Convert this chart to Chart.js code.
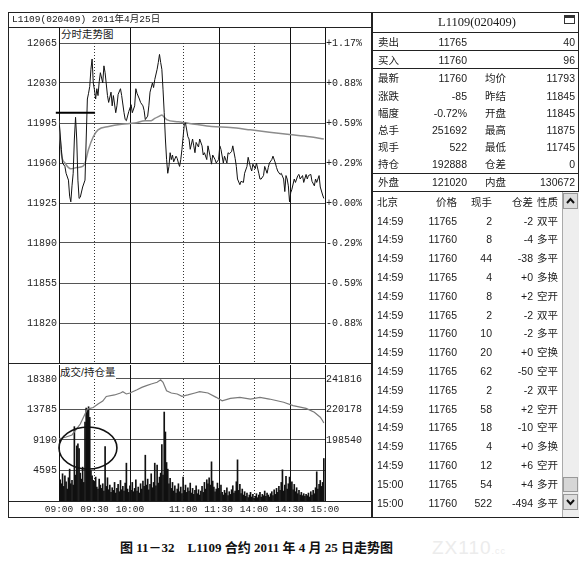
<!DOCTYPE html>
<html lang="zh-CN"><head><meta charset="utf-8"><title>L1109 走势图</title>
<script src="https://cdn.jsdelivr.net/npm/chart.js@4.4.1/dist/chart.umd.min.js"></script>
<style>
html,body{margin:0;padding:0;background:#fff}
body{position:relative;width:587px;height:577px;overflow:hidden;font-family:"Liberation Sans","Noto Sans CJK SC",sans-serif;color:#1a1a1a}
.abs{position:absolute;white-space:nowrap}
.frame{position:absolute;border:1px solid #222;box-sizing:border-box}
.hr{position:absolute;height:1px;background:#222}
canvas{position:absolute;display:block}
.mono{font-family:"Liberation Mono","Noto Sans CJK SC",monospace}
.q{font-size:10.5px}
</style></head><body>
<div class="frame" style="left:8px;top:12px;width:364px;height:506px"></div>
<canvas id="pc" width="362" height="336" style="left:8px;top:27px"></canvas>
<canvas id="vc" width="362" height="152" style="left:8px;top:365px"></canvas>
<div class="hr" style="left:8px;top:27px;width:364px"></div>
<div class="hr" style="left:8px;top:363px;width:364px"></div>
<div class="hr" style="left:8px;top:501px;width:364px"></div>
<div class="abs mono" style="left:12px;top:14px;font-size:9.5px;line-height:12px">L1109(020409) 2011年4月25日</div>
<div class="abs" style="left:61px;top:28px;font-size:10.5px;line-height:13px;background:#fff;padding-right:1px">分时走势图</div>
<div class="abs" style="left:60px;top:366px;font-size:10.5px;line-height:13px;background:#fff;padding-right:1px">成交/持仓量</div>

<div class="frame" style="left:372px;top:12px;width:207px;height:506px"></div>
<div class="hr" style="left:372px;top:32px;width:207px"></div>
<div class="hr" style="left:372px;top:50px;width:207px"></div>
<div class="hr" style="left:372px;top:68px;width:207px"></div>
<div class="hr" style="left:372px;top:173px;width:207px"></div>
<div class="hr" style="left:372px;top:191px;width:207px"></div>
<div class="abs" style="left:564px;top:15px;width:11px;height:9px;border:1px solid #333;border-top-width:3px;box-sizing:border-box;background:#fff"></div>
<div class="abs" style="left:562px;top:192px;width:16px;height:325px;background:#eee;border-left:1px solid #aaa"></div>
<div class="abs" style="left:563px;top:193px;width:15px;height:16px;background:#ddd;border:1px solid #999;box-sizing:border-box"></div>
<div class="abs" style="left:563px;top:477px;width:15px;height:15px;background:#d6d6d6;border:1px solid #999;box-sizing:border-box"></div>
<div class="abs" style="left:563px;top:494px;width:15px;height:16px;background:#ddd;border:1px solid #999;box-sizing:border-box"></div>
<svg class="abs" style="left:563px;top:193px" width="15" height="16"><polyline points="4,10 7.5,6 11,10" fill="none" stroke="#111" stroke-width="2"/></svg>
<svg class="abs" style="left:563px;top:494px" width="15" height="16"><polyline points="4,6 7.5,10 11,6" fill="none" stroke="#111" stroke-width="2"/></svg>

<div class="abs" style="left:120px;top:539px;font-size:13px;line-height:18px;font-weight:bold;font-family:'Liberation Serif','Noto Sans CJK SC',serif;color:#111">图 11－32&nbsp;&nbsp;&nbsp;&nbsp;L1109 合约 2011 年 4 月 25 日走势图</div>
<div class="abs" style="left:432px;top:538px;font-size:19px;line-height:20px;color:#ececec;font-family:'Liberation Sans',sans-serif;letter-spacing:1px">ZX110<span style="font-size:9px">.cc</span></div>

<script>
// ---------- data ----------
const timeTickMin = [0, 30, 60, 105, 135, 165, 195, 225];
const timeTickLabels = ['09:00', '09:30', '10:00', '11:00', '11:30', '14:00', '14:30', '15:00'];
const solidLineMin = [60, 135, 195];
const dottedLineMin = [30, 105, 165];

const priceTicks = [11820, 11855, 11890, 11925, 11960, 11995, 12030, 12065];
const pctTickLabels = ['-0.88%', '-0.59%', '-0.29%', '+0.00%', '+0.29%', '+0.59%', '+0.88%', '+1.17%'];
const volTicks = [4595, 9190, 13785, 18380];
const oiTicks = [198540, 220178, 241816];

const priceMin = [
  0,2,3,5,6,8,9,10,11,12,
  13,14,15,16,17,18,20,22,23,24,
  25,26,27,28,29,30,31,32,33,34,
  35,37,38,39,41,42,44,45,46,48,
  49,50,52,53,55,56,57,59,61,62,
  64,65,66,68,69,71,72,73,75,76,
  77,79,80,81,83,84,85,86,87,88,
  89,90,91,92,93,94,95,96,97,99,
  100,101,102,103,104,105,106,107,109,110,
  111,113,114,115,116,118,119,121,122,123,
  125,126,128,129,130,132,133,135,136,137,
  139,140,142,143,144,146,147,149,150,151,
  153,154,156,157,159,160,162,163,164,166,
  167,169,170,171,173,174,176,177,178,180,
  181,183,184,185,187,188,190,191,192,193,
  194,195,196,197,199,200,202,203,204,206,
  207,209,210,211,213,214,216,217,218,220,
  221,223,224
];
const priceVal = [
  11997,11972,11960,11957,11951,11945,11931,11926,11940,11951,
  11981,12000,11981,11945,11929,11930,11939,11945,11981,12016,
  12021,12027,12042,12051,12030,12024,12016,12025,12019,12031,
  12039,12030,12045,12039,12019,12013,12022,12010,12019,12004,
  12010,12020,12025,12019,12004,11998,11997,12005,12011,12004,
  12010,12025,12021,12016,12013,12010,12006,11998,12001,12010,
  12022,12030,12026,12033,12042,12048,12055,12048,12042,12024,
  12004,11981,11963,11951,11957,11969,11963,11967,11961,11966,
  11964,11960,11957,11963,11972,11983,11994,11995,11983,11981,
  11972,11981,11975,11969,11978,11974,11981,11975,11967,11969,
  11963,11975,11965,11959,11967,11963,11960,11963,11975,11972,
  11960,11966,11960,11969,11968,11970,11975,11964,11957,11946,
  11941,11944,11943,11951,11957,11965,11956,11953,11959,11955,
  11960,11951,11946,11946,11949,11957,11951,11956,11960,11963,
  11966,11960,11956,11953,11950,11951,11946,11935,11949,11946,
  11940,11926,11934,11937,11946,11943,11949,11950,11946,11949,
  11943,11950,11946,11949,11950,11944,11940,11946,11943,11949,
  11939,11932,11929
];

const avgMin = [0,2,5,10,15,20,22,25,29,33,42,53,64,73,78,81,85,87,89,91,101,115,129,145,162,178,195,212,224];
const avgVal = [11997,11968,11960,11955,11956,11957,11960,11972,11983,11989,11992,11994,11995,11997,11997,11999,12001,12002,12000,11998,11996,11994,11992,11991,11989,11987,11985,11983,11981];

const volume = [
  5900,3200,2600,4100,2200,3800,2900,1800,3500,4800,2600,3100,2400,11200,3900,
  8300,8600,7900,4200,3300,5100,2800,11900,14000,13700,14200,12600,4600,3800,3100,
  2900,3600,2100,1800,3300,2400,1900,2600,1500,8200,2200,3500,1700,2400,1300,
  2000,1600,2800,1200,1900,2500,1400,3100,1700,2200,1500,2700,5700,1800,1300,
  2300,1600,2800,1400,1900,3200,1500,2100,1200,2600,1800,3000,2200,6900,2400,
  3300,1700,2500,4100,2000,2800,5700,2300,5400,2700,3600,4200,8500,3900,13400,
  10400,5800,4800,2600,3400,1900,2800,1500,2300,1200,1800,2600,1400,2100,1100,
  3600,1600,2400,1300,2000,1500,2700,1200,1900,1000,1600,2300,1100,1700,900,
  1500,2200,1300,2800,1800,3200,2600,3500,2400,5900,3000,2100,1400,1800,2700,
  1900,1100,2400,1300,900,1600,1200,2000,800,1400,1000,1700,2300,1200,1500,
  2900,6200,1600,2500,1100,1800,900,1400,700,1200,500,900,1300,600,1000,
  400,700,1100,500,900,1300,600,1000,800,1500,700,1200,900,600,1100,
  1400,800,1700,1000,1900,1300,2200,1600,2800,4700,1500,2400,3700,1800,2600,
  3600,2100,2900,1700,2500,1400,2000,1100,1600,900,1300,800,1100,700,1000,
  800,1200,600,1400,900,1600,1100,2000,4400,1800,2500,3100,2200,2800,6400
];

const oiMin = [0,6,11,18,24,29,33,37,40,47,52,54,57,60,66,70,74,78,83,86,88,91,95,100,104,109,115,119,126,133,138,145,153,162,170,178,190,198,209,216,221,223,224];
const oiVal = [199300,200700,202100,209900,220500,221600,224100,226200,229400,230500,231900,232800,231200,231900,234200,235900,237100,238300,239500,241300,239500,233500,231900,231200,229500,230500,231900,232800,231900,228800,226400,228100,228800,227600,228800,227600,225300,222900,221000,218200,214700,212200,210600];

// quote panel
const quoteLabelsL = ['最新', '涨跌', '幅度', '总手', '现手', '持仓'];
const quoteValuesL = ['11760', '-85', '-0.72%', '251692', '522', '192888'];
const quoteLabelsR = ['均价', '昨结', '开盘', '最高', '最低', '仓差'];
const quoteValuesR = ['11793', '11845', '11845', '11875', '11745', '0'];
const bidAskLabels = ['卖出', '买入'];
const bidAskPrice = ['11765', '11760'];
const bidAskSize = ['40', '96'];
const outerInner = ['外盘', '121020', '内盘', '130672'];

// tick list
const tradeHeader = ['北京', '价格', '现手', '仓差', '性质'];
const tradeTime = ['14:59','14:59','14:59','14:59','14:59','14:59','14:59','14:59','14:59','14:59','14:59','14:59','14:59','14:59','15:00','15:00'];
const tradePrice = ['11765','11760','11760','11765','11760','11765','11760','11760','11765','11765','11765','11765','11765','11760','11765','11760'];
const tradeVol = ['2','8','44','4','8','2','10','20','62','2','58','18','4','12','54','522'];
const tradeOI = ['-2','-4','-38','+0','+2','-2','-2','+0','-50','-2','+2','-10','+0','+6','+4','-494'];
const tradeType = ['双平','多平','多平','多换','空开','双平','多平','空换','空平','双平','空开','空平','多换','空开','多开','多平'];

// annotations drawn by the author of the figure (value coordinates)
const markLevel = { price: 12004, fromMin: -2.7, toMin: 30.5 };
const circleMark = { min: 24.5, vol: 7985, minRadius: 24.5, volRadius: 3164 };

// ---------- text panel ----------
function txt(s, x, y, align, size, extra) {
  const d = document.createElement('div');
  d.className = 'abs';
  d.textContent = s;
  d.style.fontSize = (size || 10.5) + 'px';
  d.style.top = (y - 7) + 'px';
  d.style.height = '14px';
  d.style.lineHeight = '14px';
  if (align === 'right') d.style.right = (587 - x) + 'px';
  else if (align === 'center') { d.style.left = (x - 80) + 'px'; d.style.width = '160px'; d.style.textAlign = 'center'; }
  else d.style.left = x + 'px';
  if (extra) Object.assign(d.style, extra);
  document.body.appendChild(d);
}
txt('L1109(020409)', 477, 22, 'center', 12.5, { fontFamily: "'Liberation Serif','Noto Sans CJK SC',serif" });
const baY = [41.5, 59.5];
bidAskLabels.forEach((l, i) => {
  txt(l, 378, baY[i], 'left', 10.5);
  txt(bidAskPrice[i], 467, baY[i], 'right');
  txt(bidAskSize[i], 575, baY[i], 'right');
});
const qY = [78, 96, 113, 130, 147, 163.5];
quoteLabelsL.forEach((l, i) => {
  txt(l, 378, qY[i], 'left');
  txt(quoteValuesL[i], 467, qY[i], 'right');
  txt(quoteLabelsR[i], 485, qY[i], 'left');
  txt(quoteValuesR[i], 575, qY[i], 'right');
});
txt(outerInner[0], 378, 182, 'left');
txt(outerInner[1], 467, 182, 'right');
txt(outerInner[2], 485, 182, 'left');
txt(outerInner[3], 575, 182, 'right');
const colX = [377, 457, 492, 533, 537];
const colA = ['left', 'right', 'right', 'right', 'left'];
tradeHeader.forEach((h, j) => txt(h, colX[j], 202, colA[j]));
tradeTime.forEach((t, i) => {
  const y = 220.5 + i * 18.8;
  const row = [t, tradePrice[i], tradeVol[i], tradeOI[i], tradeType[i]];
  row.forEach((v, j) => txt(v, colX[j], y, colA[j]));
});

// ---------- charts ----------
Chart.defaults.font.family = "'Liberation Mono', monospace";
Chart.defaults.font.size = 10;
Chart.defaults.color = '#222';

const vgrid = {
  id: 'vgrid',
  beforeDatasetsDraw(chart) {
    const { ctx, chartArea: a, scales } = chart;
    const xs = scales.x, ys = scales.y;
    const topTick = Math.round(ys.getPixelForValue(ys.ticks[ys.ticks.length - 1].value));
    ctx.save();
    ctx.lineWidth = 1;
    ctx.strokeStyle = '#111';
    solidLineMin.forEach(m => {
      const px = Math.round(xs.getPixelForValue(m)) + 0.5;
      ctx.beginPath(); ctx.moveTo(px, a.top); ctx.lineTo(px, a.bottom); ctx.stroke();
    });
    ctx.strokeStyle = '#333';
    ctx.setLineDash([1, 2]);
    dottedLineMin.forEach(m => {
      const px = Math.round(xs.getPixelForValue(m)) + 0.5;
      ctx.beginPath(); ctx.moveTo(px, topTick); ctx.lineTo(px, a.bottom); ctx.stroke();
    });
    ctx.restore();
  }
};

const priceMark = {
  id: 'priceMark',
  afterDatasetsDraw(chart) {
    const { ctx, scales } = chart;
    const y = scales.y.getPixelForValue(markLevel.price);
    ctx.save();
    ctx.strokeStyle = '#000';
    ctx.lineWidth = 2;
    ctx.beginPath();
    ctx.moveTo(scales.x.getPixelForValue(markLevel.fromMin), y);
    ctx.lineTo(scales.x.getPixelForValue(markLevel.toMin), y);
    ctx.stroke();
    ctx.restore();
  }
};

const volMark = {
  id: 'volMark',
  afterDatasetsDraw(chart) {
    const { ctx, scales } = chart;
    const cx = scales.x.getPixelForValue(circleMark.min);
    const cy = scales.y.getPixelForValue(circleMark.vol);
    const rx = scales.x.getPixelForValue(circleMark.min + circleMark.minRadius) - cx;
    const ry = cy - scales.y.getPixelForValue(circleMark.vol + circleMark.volRadius);
    ctx.save();
    ctx.strokeStyle = '#111';
    ctx.lineWidth = 1.6;
    ctx.beginPath();
    ctx.ellipse(cx, cy, rx, ry, 0, 0, Math.PI * 2);
    ctx.stroke();
    ctx.restore();
  }
};

function fixWidth(w) {
  return s => { s.width = w; s.paddingTop = 0; s.paddingBottom = 0; };
}

new Chart(document.getElementById('pc'), {
  type: 'line',
  data: {
    datasets: [
      { label: '价格', data: priceMin.map((m, i) => ({ x: m, y: priceVal[i] })), borderColor: '#111', borderWidth: 1, pointRadius: 0, tension: 0, order: 1 },
      { label: '均价', data: avgMin.map((m, i) => ({ x: m, y: avgVal[i] })), borderColor: '#8c8c8c', borderWidth: 1.5, pointRadius: 0, cubicInterpolationMode: 'monotone', order: 2 }
    ]
  },
  options: {
    responsive: false, animation: false, events: [],
    layout: { padding: 0 },
    plugins: { legend: { display: false }, tooltip: { enabled: false } },
    scales: {
      x: { type: 'linear', min: 0, max: 225, display: false },
      y: {
        type: 'linear', position: 'left', min: 11785, max: 12079,
        afterBuildTicks: s => { s.ticks = priceTicks.map(v => ({ value: v })); },
        afterFit: fixWidth(51),
        ticks: { padding: 2, callback: v => String(v) },
        grid: { color: '#555', lineWidth: 1, drawTicks: false },
        border: { color: '#111', width: 1 }
      },
      y2: {
        type: 'linear', position: 'right', min: 11785, max: 12079,
        afterBuildTicks: s => { s.ticks = priceTicks.map(v => ({ value: v })); },
        afterFit: fixWidth(45),
        ticks: { padding: 1, callback: v => pctTickLabels[priceTicks.indexOf(v)] },
        grid: { drawOnChartArea: false, drawTicks: false },
        border: { color: '#111', width: 1 }
      }
    }
  },
  plugins: [vgrid, priceMark]
});

new Chart(document.getElementById('vc'), {
  type: 'bar',
  data: {
    datasets: [
      { type: 'line', label: '持仓量', yAxisID: 'y2', data: oiMin.map((m, i) => ({ x: m, y: oiVal[i] })), borderColor: '#7a7a7a', borderWidth: 1.2, pointRadius: 0, tension: 0, order: 1 },
      { type: 'bar', label: '成交量', yAxisID: 'y', data: volume.map((v, i) => ({ x: i, y: v })), backgroundColor: '#111', barThickness: 1, order: 2 }
    ]
  },
  options: {
    responsive: false, animation: false, events: [],
    layout: { padding: 0 },
    plugins: { legend: { display: false }, tooltip: { enabled: false } },
    scales: {
      x: {
        type: 'linear', min: 0, max: 225, offset: false,
        afterBuildTicks: s => { s.ticks = timeTickMin.map(v => ({ value: v })); },
        afterFit: s => { s.height = 16; s.paddingLeft = 0; s.paddingRight = 0; },
        ticks: { autoSkip: false, maxRotation: 0, padding: 3, font: { size: 9.5 }, callback: v => timeTickLabels[timeTickMin.indexOf(v)] },
        grid: { display: false, drawTicks: false },
        border: { display: false }
      },
      y: {
        type: 'linear', position: 'left', min: 0, max: 20489,
        afterBuildTicks: s => { s.ticks = volTicks.map(v => ({ value: v })); },
        afterFit: fixWidth(51),
        ticks: { padding: 2, callback: v => String(v) },
        grid: { color: '#555', lineWidth: 1, drawTicks: false },
        border: { color: '#111', width: 1 }
      },
      y2: {
        type: 'linear', position: 'right', min: 155264, max: 251749,
        afterBuildTicks: s => { s.ticks = oiTicks.map(v => ({ value: v })); },
        afterFit: fixWidth(45),
        ticks: { padding: 1, callback: v => String(v) },
        grid: { drawOnChartArea: false, drawTicks: false },
        border: { color: '#111', width: 1 }
      }
    }
  },
  plugins: [vgrid, volMark]
});
</script>
</body></html>
